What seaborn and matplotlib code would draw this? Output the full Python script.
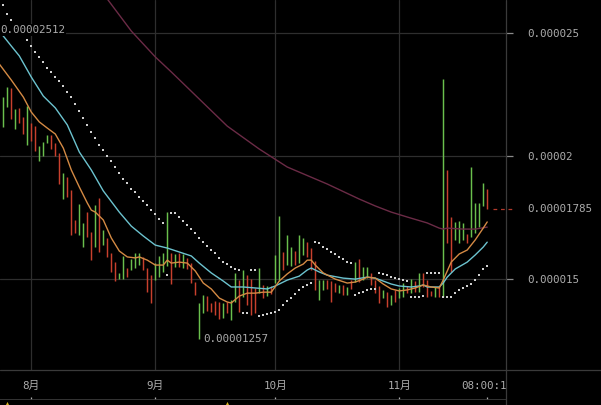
import numpy as np
import pandas as pd
import matplotlib
matplotlib.use("Agg")
import matplotlib.pyplot as plt
import seaborn as sns
from matplotlib.lines import Line2D
from matplotlib.transforms import blended_transform_factory

# ---------------- data (prices in units of 1e-6) ----------------
dates = pd.date_range("2024-07-25", periods=122, freq="D")

high = [22.40, 22.81, 22.77, 21.91, 21.96, 21.59, 22.04, 21.35, 21.22, 20.41,
        20.57, 20.86, 20.86, 20.53, 20.13, 19.32, 19.15, 18.63, 17.41, 18.06,
        17.29, 17.73, 16.92, 18.02, 18.30, 17.00, 16.68, 16.07, 15.70, 15.26,
        15.95, 15.46, 15.82, 16.07, 16.07, 15.91, 15.46, 15.17, 15.66, 15.95,
        16.07, 17.73, 16.07, 16.03, 16.07, 16.03, 15.87, 15.66, 14.89, 14.04,
        14.36, 14.32, 14.04, 14.12, 14.08, 14.04, 14.08, 14.16, 15.26, 14.97,
        15.38, 15.17, 15.01, 14.65, 15.46, 14.77, 14.73, 14.73, 15.99, 17.57,
        16.11, 16.80, 16.31, 16.15, 16.80, 16.68, 16.51, 16.27, 15.74, 14.97,
        14.97, 14.97, 14.93, 14.85, 14.77, 14.77, 14.69, 14.97, 15.70, 15.82,
        15.50, 15.50, 15.26, 14.97, 14.73, 14.57, 14.48, 14.36, 14.57, 14.65,
        14.85, 14.73, 15.01, 14.93, 15.26, 15.26, 14.97, 14.53, 14.69, 14.73,
        23.13, 19.44, 17.53, 17.33, 17.37, 17.29, 16.84, 19.56, 18.10, 18.10,
        18.91, 18.67]

low = [21.18, 22.00, 21.51, 21.10, 21.35, 20.90, 20.45, 20.62, 20.21, 19.80,
       20.01, 20.53, 20.29, 20.01, 18.87, 18.26, 18.34, 16.80, 16.88, 16.80,
       16.31, 16.72, 15.78, 16.31, 16.11, 16.39, 15.91, 15.30, 14.93, 15.01,
       15.01, 15.09, 15.38, 15.46, 15.58, 15.38, 14.49, 14.04, 14.97, 15.09,
       15.30, 15.54, 14.81, 15.50, 15.50, 15.46, 15.42, 14.85, 14.36, 12.57,
       13.63, 13.71, 13.67, 13.55, 13.39, 13.43, 13.63, 13.35, 14.08, 13.67,
       14.28, 13.96, 13.55, 13.63, 14.44, 14.24, 14.32, 14.40, 14.85, 14.97,
       15.38, 15.58, 15.54, 15.58, 15.66, 15.99, 15.91, 15.38, 14.57, 14.16,
       14.57, 14.61, 14.08, 14.48, 14.44, 14.36, 14.36, 14.61, 14.89, 14.89,
       14.97, 15.05, 14.77, 14.44, 14.04, 14.24, 13.88, 13.96, 14.08, 14.24,
       14.28, 14.44, 14.44, 14.48, 14.48, 14.69, 14.28, 14.32, 14.28, 14.28,
       14.28, 16.47, 15.30, 16.60, 16.47, 16.60, 16.47, 16.72, 16.88, 17.12,
       17.98, 17.85]

rising = [1, 1, 0, 1, 0, 0, 1, 0, 0, 1,
          1, 1, 0, 0, 0, 1, 0, 0, 0, 1,
          1, 0, 0, 1, 0, 1, 0, 0, 0, 1,
          1, 0, 1, 1, 1, 0, 0, 0, 1, 1,
          1, 1, 0, 1, 0, 1, 0, 0, 0, 1,
          1, 0, 0, 0, 0, 1, 0, 1, 1, 0,
          1, 0, 0, 0, 1, 0, 1, 0, 1, 1,
          0, 1, 1, 0, 1, 1, 0, 0, 0, 1,
          1, 0, 0, 0, 1, 0, 1, 0, 1, 0,
          1, 1, 0, 0, 0, 1, 0, 1, 0, 1,
          1, 0, 1, 0, 1, 0, 0, 0, 1, 0,
          1, 0, 0, 1, 1, 1, 0, 1, 1, 1,
          1, 0]

sar = [26.14, 25.77, 25.53, 25.33, 25.12, 24.92, 24.72, 24.47, 24.24, 24.04,
       23.81, 23.59, 23.42, 23.23, 23.05, 22.85, 22.62, 22.39, 22.11, 21.83,
       21.54, 21.27, 20.99, 20.73, 20.45, 20.25, 20.01, 19.79, 19.57, 19.33,
       19.08, 18.90, 18.68, 18.54, 18.36, 18.19, 18.02, 17.81, 17.64, 17.45,
       17.30, 15.17, 17.70, 17.70, 17.54, 17.38, 17.20, 17.04, 16.87, 16.69,
       16.53, 16.35, 16.19, 16.06, 15.88, 15.71, 15.62, 15.52, 15.44, 15.38,
       13.65, 13.65, 15.38, 15.38, 13.52, 13.55, 13.58, 13.62, 13.67, 13.77,
       13.96, 14.12, 14.26, 14.40, 14.55, 14.69, 14.79, 14.87, 16.53, 16.47,
       16.32, 16.22, 16.12, 16.03, 15.92, 15.81, 15.71, 15.65, 14.36, 14.43,
       14.50, 14.57, 14.59, 14.59, 15.24, 15.22, 15.17, 15.11, 15.07, 15.03,
       14.99, 14.95, 14.28, 14.28, 14.30, 14.32, 15.27, 15.27, 15.27, 15.26,
       14.28, 14.28, 14.28, 14.43, 14.55, 14.63, 14.72, 14.81, 14.97, 15.17,
       15.40, 15.55]

ma_fast_idx = [-1, 2, 5, 7, 9, 11, 13, 15, 17, 19, 21, 22, 23, 25, 27, 29, 31, 33, 34,
               36, 38, 40, 41, 42, 44, 46, 48, 50, 52, 54, 56, 57, 59, 61, 63, 65, 67,
               69, 71, 73, 75, 76, 77, 78, 80, 83, 86, 88, 90, 91, 93, 95, 97, 99, 101,
               103, 105, 107, 109, 110, 112, 114, 116, 118, 120, 121]
ma_fast = [23.74, 23.09, 22.40, 21.79, 21.39, 21.14, 20.90, 20.33, 19.44, 18.75, 18.10,
           17.81, 17.73, 17.41, 16.68, 16.15, 15.91, 15.87, 15.91, 15.78, 15.58, 15.58,
           15.78, 15.66, 15.70, 15.66, 15.34, 14.85, 14.61, 14.24, 14.08, 14.04, 14.32,
           14.44, 14.44, 14.48, 14.48, 14.93, 15.22, 15.46, 15.62, 15.78, 15.78, 15.58,
           15.26, 15.01, 14.85, 14.89, 15.01, 15.09, 15.05, 14.81, 14.61, 14.53, 14.57,
           14.65, 14.77, 14.69, 14.65, 14.97, 15.70, 16.03, 16.19, 16.60, 17.08, 17.33]

ma_mid_idx = [-1, 2, 4, 7, 10, 13, 16, 19, 22, 25, 29, 32, 35, 38, 41, 44, 47, 49, 52,
              55, 57, 60, 63, 66, 68, 71, 74, 76, 77, 79, 81, 85, 88, 91, 93, 95, 97,
              99, 102, 104, 105, 106, 109, 110, 111, 113, 116, 118, 120, 121]
ma_mid = [25.08, 24.47, 24.07, 23.21, 22.44, 21.96, 21.27, 20.17, 19.44, 18.59, 17.73,
          17.16, 16.76, 16.39, 16.27, 16.11, 15.95, 15.66, 15.26, 14.93, 14.69, 14.69,
          14.65, 14.61, 14.73, 14.97, 15.13, 15.38, 15.46, 15.30, 15.17, 15.05, 15.01,
          15.09, 15.05, 14.93, 14.81, 14.73, 14.69, 14.73, 14.77, 14.69, 14.69, 14.85,
          15.09, 15.42, 15.70, 15.99, 16.31, 16.51]

ma_slow_idx = [24, 26, 32, 38, 42, 49, 56, 64, 71, 81, 89, 93, 97, 101, 106, 109, 110,
               111, 115, 118, 121]
ma_slow = [26.83, 26.38, 25.08, 24.03, 23.42, 22.32, 21.22, 20.29, 19.56, 18.87, 18.26,
           17.98, 17.73, 17.53, 17.29, 17.08, 17.04, 17.08, 17.04, 17.04, 17.12]

y_ticks = [25.0, 20.0, 15.0]
y_tick_labels = ["0.000025", "0.00002", "0.000015"]
max_label, min_label, last_label = "0.00002512", "0.00001257", "0.00001785"
max_value, min_value, last_value = 25.12, 12.57, 17.85
last_time_label = "08:00:10"
lower_marks_idx = [1, 56]

S = 1e-6
high = np.array(high) * S
low = np.array(low) * S
rising = np.array(rising, dtype=bool)
sar = np.array(sar) * S
idx = np.arange(len(high))

# ---------------- style ----------------
sns.set_theme(style="dark", rc={
    "figure.facecolor": "black", "axes.facecolor": "black",
    "savefig.facecolor": "black", "axes.edgecolor": "#3a3a3a",
    "grid.color": "#2e2e2e", "text.color": "#acacac",
    "xtick.color": "#acacac", "ytick.color": "#acacac",
})
plt.rcParams["font.family"] = ["DejaVu Sans Mono", "Noto Sans CJK SC"]

TXT = "#acacac"
GREEN, RED = "#6abf4d", "#c8402d"
FS = 7.8

W, H = 601, 405
fig = plt.figure(figsize=(W / 100, H / 100), dpi=100)
ax = fig.add_axes([0, (H - 370) / H, 506 / W, 370 / H])
band = fig.add_axes([0, (H - 400) / H, 506 / W, 30 / H])
sub = fig.add_axes([0, 0, 506 / W, 5 / H])

XL = (-0.83, 125.7)
ax.set_xlim(*XL)
ax.set_ylim(11.32 * S, 26.34 * S)

# month ticks from dates
month_pos = [i for i, d in enumerate(dates) if d.day == 1]
month_lab = [f"{d.month}月" for d in dates if d.day == 1]

ax.set_xticks(month_pos)
ax.set_xticklabels([])
ax.tick_params(axis="x", length=0)
ax.set_yticks(np.array(y_ticks) * S)
ax.set_yticklabels(y_tick_labels)
ax.yaxis.tick_right()
ax.tick_params(axis="y", length=5, width=0.9, color="#8a8a8a", pad=10,
               labelsize=FS, labelcolor=TXT)
ax.grid(True, color="#2e2e2e", lw=0.9)
for s in ax.spines.values():
    s.set_visible(False)

# candles (high-low bars)
ax.vlines(idx[rising], low[rising], high[rising], color=GREEN, lw=1.05, zorder=3)
ax.vlines(idx[~rising], low[~rising], high[~rising], color=RED, lw=1.05, zorder=3)

# moving averages
sns.lineplot(x=ma_slow_idx, y=np.array(ma_slow) * S, ax=ax, color="#6b2b46",
             lw=1.0, estimator=None, sort=False, zorder=4)
sns.lineplot(x=ma_mid_idx, y=np.array(ma_mid) * S, ax=ax, color="#6cc3cf",
             lw=1.0, estimator=None, sort=False, zorder=5)
sns.lineplot(x=ma_fast_idx, y=np.array(ma_fast) * S, ax=ax, color="#d48a44",
             lw=1.0, estimator=None, sort=False, zorder=5)

# parabolic SAR
sns.scatterplot(x=idx, y=sar, ax=ax, marker="s", s=2.4, color="#cfcfcf",
                linewidth=0, zorder=6)
ax.set_xlabel("")
ax.set_ylabel("")

# annotations
ax.text(XL[0], max_value * S, max_label, fontsize=FS, color=TXT, ha="left",
        va="center", zorder=8,
        bbox=dict(facecolor="black", edgecolor="none", pad=0.5))
imin = int(np.argmin(low))
ax.annotate(min_label, (idx[imin], low[imin]), xytext=(3, 0),
            textcoords="offset points", fontsize=FS, color=TXT,
            ha="left", va="center", zorder=8)

tr = blended_transform_factory(ax.transAxes, ax.transData)
ax.plot([0.974, 1.014], [last_value * S] * 2, transform=tr, clip_on=False,
        color="#b23a2c", lw=0.9, ls=(0, (3, 3)), zorder=7)
ax.text(527 / 506, last_value * S, last_label, transform=tr, fontsize=FS,
        color=TXT, ha="left", va="center", clip_on=False)

# time band
band.set_xlim(*XL)
band.set_ylim(0, 1)
band.set_facecolor("black")
band.grid(False)
band.set_yticks([])
band.set_xticks(month_pos + [idx[-1]])
band.set_xticklabels([])
band.tick_params(axis="x", direction="in", length=2.3, width=0.9,
                 color="#b0b0b0", bottom=True)
for name, s in band.spines.items():
    s.set_visible(name == "bottom")
band.spines["bottom"].set_color("#3a3a3a")
for p, lab in zip(month_pos + [idx[-1]], month_lab + [last_time_label]):
    band.text(p, 0.47, lab, fontsize=FS, color=TXT, ha="center", va="center",
              clip_on=True)

# lower panel (cut-off indicator)
sub.set_xlim(*XL)
sub.set_ylim(0, 1)
sub.set_facecolor("black")
sub.grid(False)
sub.set_xticks([])
sub.set_yticks([])
for s in sub.spines.values():
    s.set_visible(False)
sub.scatter(lower_marks_idx, [0.5] * len(lower_marks_idx), marker="^", s=5,
            color="#d6b21e", linewidths=0)

# frame lines
fig.add_artist(Line2D([0, 1], [(H - 370) / H] * 2, transform=fig.transFigure,
                      color="#3a3a3a", lw=0.9))
fig.add_artist(Line2D([506 / W] * 2, [0, 1], transform=fig.transFigure,
                      color="#3a3a3a", lw=0.9))

fig.savefig("out.png", dpi=100, facecolor="black")
